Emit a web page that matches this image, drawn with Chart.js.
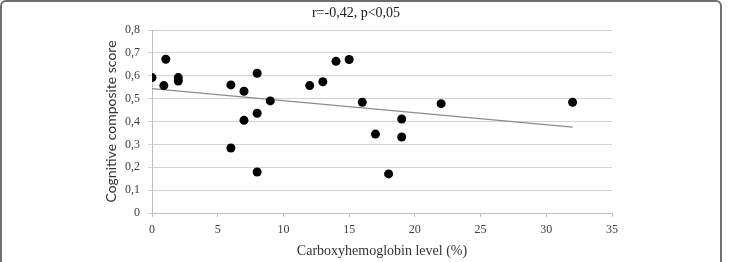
<!DOCTYPE html>
<html>
<head>
<meta charset="utf-8">
<script src="https://cdn.jsdelivr.net/npm/chart.js@4"></script>
<style>
  html, body { margin: 0; padding: 0; background: #ffffff; }
  #wrap { position: relative; width: 735px; height: 262px; overflow: hidden; }
  #frame { position: absolute; left: 0; top: 0; width: 718px; height: 300px;
           border: 2px solid #6e6e6e; border-radius: 6px; }
  canvas { position: absolute; left: 0; top: 0; }
</style>
</head>
<body>
<div id="wrap">
  <div id="frame"></div>
  <canvas id="c" width="735" height="262"></canvas>
</div>
<script>
// Data
const hbcoLevel = [0, 0.9, 1.05, 2, 2, 6, 6, 7, 7, 8, 8, 8, 9, 12, 13, 14, 15, 16, 17, 18, 19, 19, 22, 32];
const cognitiveScore = [0.592, 0.557, 0.672, 0.592, 0.577, 0.560, 0.284, 0.532, 0.405, 0.611, 0.436, 0.179, 0.490,
                        0.557, 0.574, 0.663, 0.671, 0.484, 0.345, 0.171, 0.411, 0.332, 0.478, 0.484];
const trendX = [0, 32];
const trendY = [0.544, 0.375];
const titleText = 'r=-0,42, p<0,05';
const xTitle = 'Carboxyhemoglobin level (%)';
const yTitle = 'Cognitive composite score';

const points = hbcoLevel.map((x, i) => ({ x: x, y: cognitiveScore[i] }));
const trend = trendX.map((x, i) => ({ x: x, y: trendY[i] }));

new Chart(document.getElementById('c'), {
  type: 'scatter',
  data: {
    datasets: [
      {
        label: 'Trend',
        type: 'line',
        data: trend,
        borderColor: '#8c8c8c',
        borderWidth: 1.2,
        pointRadius: 0,
        fill: false,
        order: 2
      },
      {
        label: 'Patients',
        data: points,
        backgroundColor: '#000000',
        borderColor: '#000000',
        pointRadius: 4.5,
        pointBorderWidth: 0,
        order: 1
      }
    ]
  },
  options: {
    responsive: false,
    animation: false,
    devicePixelRatio: 1,
    layout: { padding: { left: 100, right: 123, top: 0, bottom: 0 } },
    plugins: {
      legend: { display: false },
      tooltip: { enabled: false },
      title: {
        display: true,
        text: titleText,
        color: '#1a1a1a',
        font: { family: 'Liberation Serif', size: 14, weight: 'normal' },
        padding: { top: 5, bottom: 8.2 }
      }
    },
    scales: {
      x: {
        type: 'linear',
        min: 0, max: 35,
        ticks: { stepSize: 5, color: '#404040', font: { family: 'Liberation Serif', size: 12 }, padding: 6, maxRotation: 0 },
        grid: { drawOnChartArea: false, drawTicks: true, tickLength: 4, color: '#bfbfbf' },
        border: { display: true, color: '#bfbfbf', width: 1 },
        title: { display: true, text: xTitle, color: '#333333',
                 font: { family: 'Liberation Serif', size: 14 }, padding: { top: 0, bottom: 2 } },
        afterFit: (s) => { s.height = 49; }
      },
      y: {
        type: 'linear',
        min: 0, max: 0.8,
        ticks: {
          stepSize: 0.1, color: '#404040', padding: 8,
          font: { family: 'Liberation Serif', size: 12 },
          callback: (v) => (Math.abs(v) < 1e-9 ? '0' : Number(v).toFixed(1).replace('.', ','))
        },
        grid: { color: '#d4d4d4', lineWidth: 1, drawTicks: true, tickLength: 4 },
        border: { display: true, color: '#bfbfbf', width: 1 },
        title: { display: true, text: yTitle, color: '#333333',
                 font: { family: 'Lato', size: 14 }, padding: { top: 3, bottom: 0 } },
        afterFit: (s) => { s.width = 52; }
      }
    }
  }
});
</script>
</body>
</html>
